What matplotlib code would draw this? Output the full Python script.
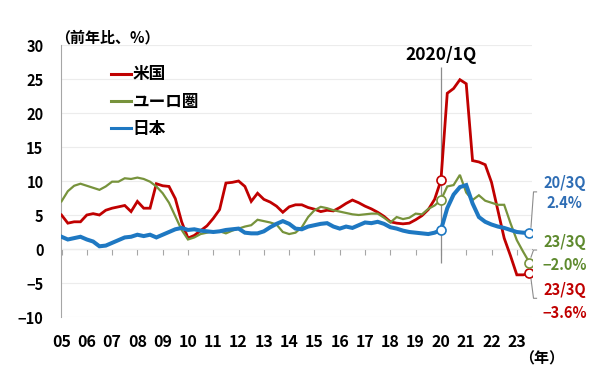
import matplotlib
matplotlib.use('Agg')
import matplotlib.pyplot as plt
import numpy as np

plt.rcParams['font.family'] = ['Noto Sans CJK JP', 'DejaVu Sans']

# year-on-year %, quarterly 2005Q1 .. 2023Q3
us = [5.0, 3.8, 4.0, 4.0,
      5.0, 5.2, 5.0, 5.7,
      6.0, 6.2, 6.4, 5.5,
      7.0, 6.0, 6.0, 9.6,
      9.3, 9.2, 7.4, 4.0,
      1.6, 2.0, 2.7, 3.4,
      4.5, 5.8, 9.7, 9.8,
      10.0, 9.2, 7.0, 8.2,
      7.3, 6.9, 6.3, 5.4,
      6.2, 6.5, 6.5, 6.1,
      5.85, 5.5, 5.7, 5.6,
      6.1, 6.7, 7.2, 6.8,
      6.3, 5.9, 5.4, 4.8,
      4.0, 3.8, 3.7, 3.8,
      4.3, 4.9, 5.8, 7.3,
      10.1, 22.9, 23.6, 24.9,
      24.3, 13.0, 12.8, 12.4,
      9.8, 5.7, 1.6, -1.0,
      -3.8, -3.8, -3.6]
euro = [7.0, 8.5, 9.3, 9.6,
        9.3, 9.0, 8.7, 9.2,
        9.9, 9.9, 10.4, 10.3,
        10.5, 10.3, 9.9, 9.2,
        8.2, 6.8, 4.8, 2.8,
        1.4, 1.7, 2.2, 2.4,
        2.6, 2.6, 2.3, 2.7,
        3.0, 3.3, 3.5, 4.3,
        4.1, 3.9, 3.6, 2.5,
        2.2, 2.4, 3.2, 4.7,
        5.7, 6.2, 6.0, 5.7,
        5.5, 5.3, 5.1, 5.0,
        5.1, 5.2, 5.2, 4.6,
        3.9, 4.7, 4.4, 4.6,
        5.2, 5.1, 5.9, 6.4,
        7.2, 9.2, 9.4, 10.9,
        8.3, 7.2, 7.9, 7.1,
        6.8, 6.5, 6.5, 3.8,
        1.3, -0.4, -2.0]
japan = [1.8, 1.4, 1.6, 1.8,
         1.4, 1.1, 0.4, 0.5,
         0.9, 1.3, 1.7, 1.8,
         2.1, 1.9, 2.1, 1.7,
         2.1, 2.5, 2.9, 3.1,
         2.8, 2.9, 2.7, 2.6,
         2.5, 2.6, 2.8, 2.9,
         3.0, 2.4, 2.3, 2.3,
         2.6, 3.2, 3.7, 4.1,
         3.7, 3.0, 2.9, 3.3,
         3.5, 3.7, 3.8, 3.3,
         3.0, 3.3, 3.1, 3.5,
         3.9, 3.8, 4.0, 3.7,
         3.2, 3.0, 2.7, 2.5,
         2.4, 2.3, 2.2, 2.4,
         2.8, 6.0, 8.0, 9.1,
         9.4, 6.7, 4.7, 4.0,
         3.6, 3.3, 3.1, 2.8,
         2.5, 2.4, 2.4]

names = ['米国', 'ユーロ圏', '日本']
years = list(range(2005, 2024))
year_labels = [f'{y % 100:02d}' for y in years]
covid_idx = 60  # 2020/1Q

line_colors = ['#C00000', '#77933C', '#1E78C2']
text_colors = ['#C00000', '#5E8A2E', '#2E6DB4']
widths = [2.0, 1.6, 2.9]
gray = '#A6A6A6'

x = 2005 + np.arange(len(us)) / 4

fig = plt.figure(figsize=(6, 3.75), dpi=100)
ax = fig.add_axes([61.5 / 600, 1 - 317 / 375, 470.5 / 600, 272 / 375])

series = [us, euro, japan]
for vals, name, c, lw in zip(series, names, line_colors, widths):
    ax.plot(x, vals, color=c, lw=lw, label=name, zorder=3, solid_joinstyle='miter')
    ax.plot([x[covid_idx], x[-1]], [vals[covid_idx], vals[-1]], ls='none', marker='o',
            ms=6.5, mfc='white', mec=c, mew=1.2, zorder=4)

ax.set_xlim(2005, 2023.6)
ax.set_ylim(-10, 30)
ax.set_yticks(range(-10, 31, 5))
ax.grid(axis='y', color='#ECECEC', lw=0.8)
ax.set_axisbelow(True)
for s in ['top', 'right', 'bottom']:
    ax.spines[s].set_visible(False)
ax.spines['left'].set_color(gray)
ax.tick_params(axis='y', length=0, pad=13, labelsize=10.5)
ax.set_xticks(years)
ax.set_xticklabels(year_labels)
ax.tick_params(axis='x', length=0, pad=12, labelsize=11.5)
for lab in ax.get_xticklabels() + ax.get_yticklabels():
    lab.set_fontweight('bold')

# zero line with year ticks
zero = ax.secondary_xaxis(0.25)
zero.set_xticks(years)
zero.set_xticklabels([])
zero.tick_params(length=4, color=gray, direction='out')
zero.spines['bottom'].set_color(gray)

# 2020/1Q marker line
ax.vlines(x[covid_idx], -2, 26.8, color='#8C8C8C', lw=0.9, zorder=2)
ax.text(x[covid_idx], 28.5, '2020/1Q', ha='center', va='center', fontsize=12.5, fontweight='bold')

ax.text(-0.014, 1.027, '（前年比、%）', transform=ax.transAxes, ha='left', va='center',
        fontsize=10.8, fontweight='bold')
ax.text(1.02, -0.152, '（年）', transform=ax.transAxes, ha='center', va='center',
        fontsize=10.8, fontweight='bold')

leg = ax.legend(loc='upper left', bbox_to_anchor=(0.105, 0.925), frameon=False,
                handlelength=1.2, handletextpad=0.12, labelspacing=0.55, borderpad=0,
                borderaxespad=0, prop={'size': 12, 'weight': 'bold'})
for h in leg.get_lines():
    h.set_linewidth(2.2)

# right-hand labels for the latest values
x_lab = 2024.9
labels = [('23/3Q', us, -6.0, -9.4), ('23/3Q', euro, 1.1, -2.35), ('20/3Q', japan, 9.65, 6.75)]
for (tag, vals, y1, y2), c in zip(labels, text_colors):
    val = f'{vals[-1]:.1f}%'.replace('-', '−')
    ax.text(x_lab, y1, tag, color=c, ha='center', va='center', fontsize=10.5,
            fontweight='bold', clip_on=False)
    ax.text(x_lab, y2, val, color=c, ha='center', va='center', fontsize=10.5,
            fontweight='bold', clip_on=False)

# leader brackets from the end markers
xe = x[-1]
ax.plot([xe + 0.06, xe + 0.16, xe + 0.28], [japan[-1] + 0.8, 8.4, 8.4], color='#8C8C8C', lw=0.8, clip_on=False)
ax.plot([xe + 0.06, xe + 0.16, xe + 0.28], [euro[-1] + 0.8, -0.15, -0.15], color='#8C8C8C', lw=0.8, clip_on=False)
ax.plot([xe + 0.06, xe + 0.16, xe + 0.28], [us[-1] - 0.8, -7.25, -7.25], color='#8C8C8C', lw=0.8, clip_on=False)

fig.savefig('out.png', dpi=100)
